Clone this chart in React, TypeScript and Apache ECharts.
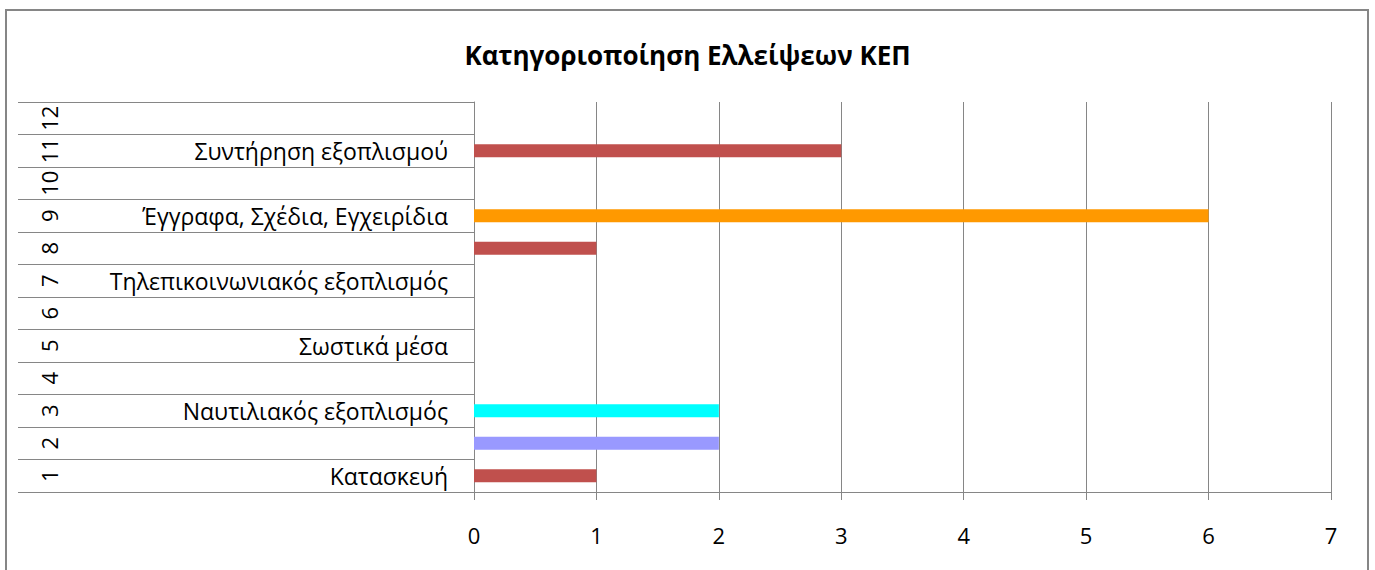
import React, { useEffect, useRef } from "react";
import * as echarts from "echarts";

const titleText = "Κατηγοριοποίηση Ελλείψεων ΚΕΠ";
const rowNumbers = ["1", "2", "3", "4", "5", "6", "7", "8", "9", "10", "11", "12"];
const categories = [
  "Κατασκευή",
  "",
  "Ναυτιλιακός εξοπλισμός",
  "",
  "Σωστικά μέσα",
  "",
  "Τηλεπικοινωνιακός εξοπλισμός",
  "",
  "Έγγραφα, Σχέδια, Εγχειρίδια",
  "",
  "Συντήρηση εξοπλισμού",
  "",
];
const values: (number | null)[] = [1, 2, 2, null, null, null, null, 1, 6, null, 3, null];
const barColors = [
  "#C0504D", "#9999FF", "#00FFFF", "#C0504D", "#C0504D", "#C0504D",
  "#C0504D", "#C0504D", "#FF9900", "#C0504D", "#C0504D", "#C0504D",
];
const xTicks = { min: 0, max: 7, interval: 1 };

const FONT = "'Open Sans', 'Noto Sans', sans-serif";
const GRAY = "#868686";

export default function App() {
  const ref = useRef<HTMLDivElement>(null);
  useEffect(() => {
    if (!ref.current) return;
    const chart = echarts.init(ref.current, null, { renderer: "svg" });
    chart.setOption({
      animation: false,
      backgroundColor: "#ffffff",
      title: {
        text: titleText,
        left: "center",
        top: 37,
        textStyle: { fontFamily: FONT, fontSize: 26, fontWeight: "bold", color: "#000" },
      },
      graphic: [
        {
          type: "rect",
          shape: { x: 6, y: 10, width: 1362, height: 600 },
          style: { fill: "none", stroke: GRAY, lineWidth: 2 },
          silent: true,
        },
      ],
      grid: { left: 474, right: 44, top: 102, bottom: 78, containLabel: false },
      xAxis: {
        type: "value",
        min: xTicks.min,
        max: xTicks.max,
        interval: xTicks.interval,
        axisLine: { show: true, lineStyle: { color: GRAY } },
        axisTick: { show: true, length: 8, lineStyle: { color: GRAY } },
        splitLine: { show: true, lineStyle: { color: GRAY } },
        axisLabel: { fontFamily: FONT, fontSize: 22, color: "#000", margin: 32 },
      },
      yAxis: [
        {
          type: "category",
          data: categories,
          position: "left",
          axisLine: { show: true, lineStyle: { color: GRAY } },
          axisTick: { show: true, length: 456, interval: 0, lineStyle: { color: GRAY } },
          axisLabel: { interval: 0, margin: 26, fontFamily: FONT, fontSize: 23, color: "#000" },
        },
        {
          type: "category",
          data: rowNumbers,
          position: "left",
          axisLine: { show: false },
          axisTick: { show: false },
          axisLabel: { interval: 0, rotate: 90, margin: 414, fontFamily: FONT, fontSize: 22, color: "#000" },
        },
      ],
      series: [
        {
          type: "bar",
          yAxisIndex: 0,
          barWidth: 13,
          data: values.map((v, i) => ({ value: v, itemStyle: { color: barColors[i] } })),
        },
      ],
    });
    return () => chart.dispose();
  }, []);
  return (
    <div
      ref={ref}
      style={{ position: "absolute", left: 0, top: 0, width: 1375, height: 570 }}
    />
  );
}
